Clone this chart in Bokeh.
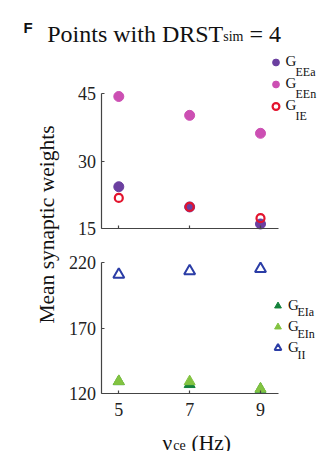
import math
from bokeh.plotting import figure
from bokeh.models import Range1d, FixedTicker, Label, Legend, LegendItem, LinearAxis
from bokeh.embed import file_html
from bokeh.resources import INLINE

# ---- data ----
rates = [5, 7, 9]                      # nu_ce (Hz)
g_eea = [24.3, 19.8, 16.0]
g_een = [44.4, 40.2, 36.2]
g_ie = [21.8, 19.8, 17.3]
g_eia = [129.4, 127.2, 123.6]
g_ein = [129.6, 129.4, 123.8]
g_ii = [211.0, 213.6, 215.4]
x_ticks = [5, 7, 9]
top_ticks = [15, 30, 45]
bottom_ticks = [120, 170, 220]

SERIF = "Liberation Serif"
AX = "#444444"
TXT = "#111111"

C_EEA = "#6b3fa0"
C_EEN = "#cc4fb3"
C_IE = "#e3132d"
C_EIA = "#14823c"
C_EIN = "#82c341"
C_II = "#2b3da6"

X_LO, X_HI = 4.5, 9.51

p = figure(width=322, height=451,
           x_range=Range1d(1.661, 10.75), y_range=Range1d(-34.67, 65.78),
           x_axis_type=None, y_axis_type=None,
           output_backend="svg", toolbar_location=None,
           min_border=0, min_border_left=0, min_border_right=0,
           min_border_top=0, min_border_bottom=0)
p.extra_y_ranges = {"low": Range1d(75.95, 420.23)}
p.outline_line_color = None
p.grid.visible = False
p.title.visible = False


def axis(ticks, bounds, loc, labels=True, **kw):
    ax = LinearAxis(ticker=FixedTicker(ticks=ticks), bounds=bounds, fixed_location=loc, **kw)
    ax.axis_line_color = AX
    ax.axis_line_width = 1.2
    ax.major_tick_line_color = AX
    ax.major_tick_line_width = 1.2
    ax.major_tick_in = 3
    ax.major_tick_out = 0
    ax.minor_tick_line_color = None
    ax.major_label_text_font = SERIF
    ax.major_label_text_font_size = "18px"
    ax.major_label_text_color = "#222222"
    if not labels:
        ax.major_label_overrides = {t: "" for t in ticks}
        ax.major_label_text_font_size = "1px"
        ax.major_label_standoff = 0
    return ax


# x axes (one per panel)
ax1 = axis(x_ticks, (X_LO, X_HI), 15, labels=False)
p.add_layout(ax1, "below")
ax2 = axis(x_ticks, (X_LO, X_HI), 120, y_range_name="low")
ax2.major_label_standoff = 9
p.add_layout(ax2, "below")
# y axes
ay1 = axis(top_ticks, (15, 45), X_LO)
ay1.major_label_standoff = 5
p.add_layout(ay1, "left")
ay2 = axis(bottom_ticks, (120, 220), X_LO, y_range_name="low")
ay2.major_label_standoff = 5
p.add_layout(ay2, "left")

# ---- top panel marks ----
r1 = p.scatter(rates, g_eea, marker="circle", size=10, color=C_EEA)
r2 = p.scatter(rates, g_een, marker="circle", size=10, color=C_EEN)
r3 = p.scatter(rates, g_ie, marker="circle", size=8, fill_color=None,
               line_color=C_IE, line_width=2.2)

# ---- bottom panel marks ----
s1 = p.scatter(rates, g_eia, marker="triangle", size=11, color=C_EIA, y_range_name="low")
s2 = p.scatter(rates, g_ein, marker="triangle", size=11, color=C_EIN, y_range_name="low")
s3 = p.scatter(rates, g_ii, marker="triangle", size=11, fill_color=None,
               line_color=C_II, line_width=2, y_range_name="low")


def legend(items, loc, gh):
    return Legend(items=[LegendItem(label="G", renderers=[r]) for r in items],
                  location=loc, orientation="vertical", padding=0, spacing=0, margin=0,
                  glyph_width=17, glyph_height=gh, label_height=gh, label_standoff=2,
                  label_text_font=SERIF, label_text_font_size="15px",
                  label_text_color=TXT, background_fill_alpha=0, border_line_alpha=0)


p.add_layout(legend([r1, r2, r3], (266.5, 334.3), 22))
p.add_layout(legend([s1, s2, s3], (269, 93.5), 21))


def lab(x, y, text, size, font=SERIF, **kw):
    p.add_layout(Label(x=x, y=y, x_units="screen", y_units="screen", text=text,
                       text_font=font, text_font_size=size, text_baseline="alphabetic",
                       text_color=TXT, **kw))


# legend subscripts
for sub, yy in zip(["EEa", "EEn", "IE"], [380, 358, 336]):
    lab(295, yy, sub, "12px")
for sub, yy in zip(["EIa", "EIn", "II"], [140, 118, 97]):
    lab(297, yy, sub, "12px")

# title
lab(23, 424.3, "F", "15px", font="Liberation Sans", text_font_style="bold")
lab(46.7, 417.7, "Points with DRST", "24px")
lab(222.7, 415.5, "sim", "14px")
lab(249, 417.7, "= 4", "24px")

# y label
p.add_layout(Label(x=46, y=227, x_units="screen", y_units="screen",
                   text="Mean synaptic weights", angle=math.pi / 2,
                   text_align="center", text_baseline="alphabetic",
                   text_font=SERIF, text_font_size="21.5px", text_color=TXT))

# x label: nu_ce (Hz)
lab(162, 9, "ν", "21.5px")
lab(172.8, 6, "ce", "14px")
lab(191, 9, "(Hz)", "21.5px")

with open("out.html", "w") as fh:
    fh.write(file_html(p, INLINE))
